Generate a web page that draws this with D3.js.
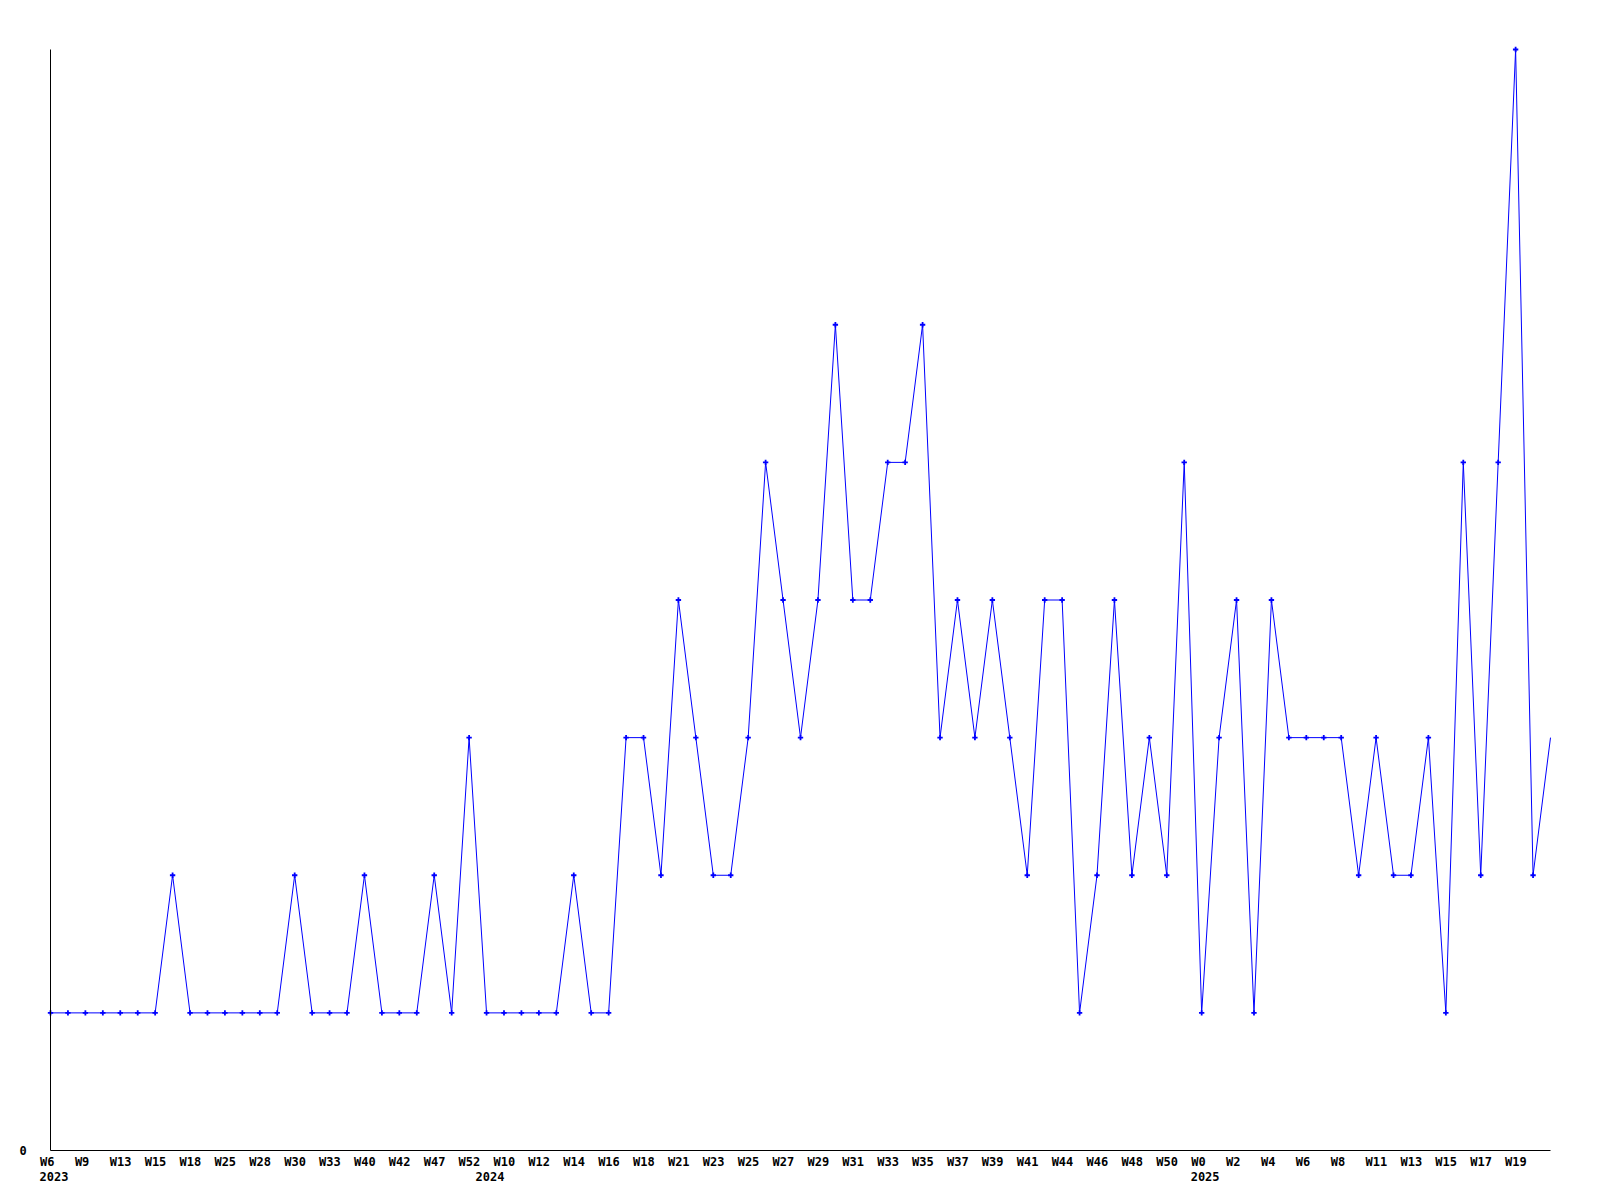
<!DOCTYPE html>
<html>
<head>
<meta charset="utf-8">
<script src="https://cdn.jsdelivr.net/npm/d3@7"></script>
<style>
  html, body { margin: 0; padding: 0; background: #fff; }
  svg { display: block; }
  .lbl { font-family: "DejaVu Sans Mono", monospace; font-weight: bold; font-size: 12px; fill: #000; }
</style>
</head>
<body>
<div id="chart"></div>
<script>
// Values per data point (87 points)
const values = [1,1,1,1,1,1,1,2,1,1, 1,1,1,1,2,1,1,1,2,1, 1,1,2,1,3,1,1,1,1,1,
                2,1,1,3,3,2,4,3,2,2, 3,5,4,3,4,6,4,4,5,5, 6,3,4,3,4,3,2,4,4,1,
                2,4,2,3,2,5,1,3,4,1, 4,3,3,3,3,2,3,2,2,3, 1,5,2,5,8,2,3];
// Tick labels (every second point)
const tickIndex = [0,2,4,6,8,10,12,14,16,18,20,22,24,26,28,30,32,34,36,38,40,42,44,46,48,50,52,54,56,58,60,62,64,66,68,70,72,74,76,78,80,82,84];
const tickLabels = ["W6","W9","W13","W15","W18","W25","W28","W30","W33","W40","W42","W47","W52",
                    "W10","W12","W14","W16","W18","W21","W23","W25","W27","W29","W31","W33","W35","W37","W39","W41","W44","W46","W48","W50",
                    "W0","W2","W4","W6","W8","W11","W13","W15","W17","W19"];
const yearIndex = [0, 25, 66];
const yearLabels = ["2023","2024","2025"];
const yTicks = [0];

const W = 1600, H = 1200;
const svg = d3.select("#chart").append("svg").attr("width", W).attr("height", H);
svg.append("rect").attr("width", W).attr("height", H).attr("fill", "#fff");

const x = d3.scaleLinear().domain([0, values.length - 1]).range([50.5, 1550.5]);
const y = d3.scaleLinear().domain([0, 8]).range([1150.5, 49.5]);

svg.append("defs").append("clipPath").attr("id", "plot")
  .append("rect").attr("x", 50).attr("y", 40).attr("width", 1501).attr("height", 1115);

const line = d3.line().x((d, i) => x(i)).y(d => y(d));
svg.append("path")
  .datum(values)
  .attr("clip-path", "url(#plot)")
  .attr("d", line)
  .attr("fill", "none")
  .attr("stroke", "#0000ff")
  .attr("stroke-width", 1);

const sym = d3.symbol().type(d3.symbolCross).size(16);
svg.append("g").selectAll("path")
  .data(values.slice(0, values.length - 1))
  .join("path")
  .attr("transform", (d, i) => `translate(${x(i)},${y(d)})`)
  .attr("d", sym)
  .attr("fill", "#0000ff");

const xAxis = d3.axisBottom(x)
  .tickValues(tickIndex)
  .tickFormat((d, i) => tickLabels[i])
  .tickSize(0)
  .tickPadding(0);
const gx = svg.append("g").attr("transform", `translate(0,${y(0)})`).call(xAxis);
gx.select(".domain").attr("d", `M${x(0)},0H${x(values.length - 1)}`).attr("stroke", "#000").attr("stroke-width", 1);
gx.selectAll(".tick text")
  .attr("class", "lbl")
  .attr("text-anchor", "start")
  .attr("x", -11)
  .attr("y", 7)
  .attr("dy", "0.71em")
  .attr("font-family", null).attr("font-size", null);

const gy2 = svg.append("g").attr("transform", `translate(0,${y(0)})`);
gy2.selectAll("text")
  .data(yearIndex)
  .join("text")
  .attr("class", "lbl")
  .attr("x", d => x(d) - 11)
  .attr("y", 22)
  .attr("dy", "0.71em")
  .text((d, i) => yearLabels[i]);

const yAxis = d3.axisLeft(y).tickValues(yTicks).tickFormat(d3.format("d")).tickSize(0).tickPadding(0);
const gy = svg.append("g").attr("transform", `translate(${x(0)},0)`).call(yAxis);
gy.select(".domain").attr("d", `M0,${y(8)}V${y(0)}`).attr("stroke", "#000").attr("stroke-width", 1);
gy.selectAll(".tick text")
  .attr("class", "lbl")
  .attr("text-anchor", "start")
  .attr("x", -31)
  .attr("dy", "0.35em")
  .attr("font-family", null).attr("font-size", null);
</script>
</body>
</html>
